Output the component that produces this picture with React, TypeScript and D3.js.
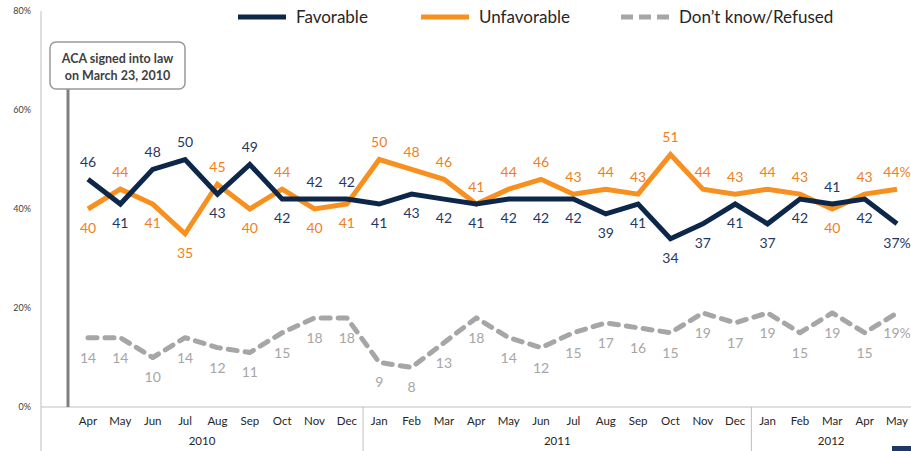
import React from "react";
import * as d3 from "d3";

const months = ["Apr","May","Jun","Jul","Aug","Sep","Oct","Nov","Dec","Jan","Feb","Mar","Apr","May","Jun","Jul","Aug","Sep","Oct","Nov","Dec","Jan","Feb","Mar","Apr","May"];
const years = [
  { label: "2010", count: 9 },
  { label: "2011", count: 12 },
  { label: "2012", count: 5 },
];
const favorable = [46,41,48,50,43,49,42,42,42,41,43,42,41,42,42,42,39,41,34,37,41,37,42,41,42,37];
const unfavorable = [40,44,41,35,45,40,44,40,41,50,48,46,41,44,46,43,44,43,51,44,43,44,43,40,43,44];
const dontKnow = [14,14,10,14,12,11,15,18,18,9,8,13,18,14,12,15,17,16,15,19,17,19,15,19,15,19];
// label placement: 1 = above, -1 = below
const favPos = [1,-1,1,1,-1,1,-1,1,1,-1,-1,-1,-1,-1,-1,-1,-1,-1,-1,-1,-1,-1,-1,1,-1,-1];
const unfPos = [-1,1,-1,-1,1,-1,1,-1,-1,1,1,1,1,1,1,1,1,1,1,1,1,1,1,-1,1,1];
const yTicks = [0,20,40,60,80];

const W = 911, H = 451;
const NAVY = "#0C2749";
const NAVY_TXT = "#1F3864";
const ORANGE = "#F7901E";
const ORANGE_TXT = "#EE7F22";
const GRAY = "#A6A6A6";
const FONT = "Lato, 'Open Sans', sans-serif";

export default function App() {
  const idx = months.map((_, i) => i);
  const x = d3.scalePoint<number>().domain(idx).range([88, 897]);
  const y = d3.scaleLinear().domain([0, 80]).range([407, 11]);
  const step = x.step();
  const line = d3.line<number>().x((_, i) => x(i)!).y(d => y(d));

  const series = [
    { data: unfavorable, color: ORANGE, txt: ORANGE_TXT, pos: unfPos },
    { data: favorable, color: NAVY, txt: NAVY_TXT, pos: favPos },
  ];

  let acc = 0;
  const groups = years.map(g => {
    const start = acc;
    acc += g.count;
    const left = start === 0 ? 41 : x(start)! - step / 2;
    const right = acc === months.length ? W : x(acc - 1)! + step / 2;
    return { ...g, left, right };
  });

  const last = months.length - 1;

  return (
    <div style={{ position: "fixed", left: 0, top: 0 }}>
      <svg width={W} height={H} style={{ display: "block", background: "#fff" }} fontFamily={FONT}>
        <line x1={41} x2={41} y1={y(80)} y2={H} stroke="#BFBFBF" strokeWidth={1} />
        {yTicks.map(t => (
          <text key={t} x={31} y={y(t)} dy="0.35em" textAnchor="end" fontSize={9} fill="#404040">{t}%</text>
        ))}
        <line x1={41} x2={W} y1={y(0)} y2={y(0)} stroke="#BFBFBF" strokeWidth={1} />
        {groups.slice(1).map(g => (
          <line key={g.label} x1={g.left} x2={g.left} y1={y(0)} y2={H} stroke="#BFBFBF" strokeWidth={1} />
        ))}
        {months.map((m, i) => (
          <text key={i} x={x(i)} y={421} dy="0.35em" textAnchor="middle" fontSize={11.5} fill="#262626">{m}</text>
        ))}
        {groups.map(g => (
          <text key={g.label} x={(g.left + g.right) / 2} y={441} dy="0.35em" textAnchor="middle" fontSize={11.5} fill="#262626">{g.label}</text>
        ))}

        <line x1={68} x2={68} y1={89} y2={y(0)} stroke="#808080" strokeWidth={3} />
        <rect x={50} y={42} width={135} height={47} rx={6} fill="#fff" stroke="#999" strokeWidth={1.5} />
        <text x={117.5} y={59} dy="0.35em" textAnchor="middle" fontSize={12.5} fontWeight="bold" fill="#404040">ACA signed into law</text>
        <text x={117.5} y={76} dy="0.35em" textAnchor="middle" fontSize={12.5} fontWeight="bold" fill="#404040">on March 23, 2010</text>

        <path d={line(dontKnow)!} fill="none" stroke={GRAY} strokeWidth={5} strokeDasharray="9 8" strokeLinecap="round" strokeLinejoin="round" />
        {dontKnow.map((v, i) => (
          <text key={i} x={x(i)} y={y(v) + 20} dy="0.35em" textAnchor="middle" fontSize={14} fill={GRAY}>{i === last ? `${v}%` : v}</text>
        ))}

        {series.map((s, k) => (
          <g key={k}>
            <path d={line(s.data)!} fill="none" stroke={s.color} strokeWidth={5} strokeLinejoin="miter" />
            {s.data.map((v, i) => (
              <text key={i} x={x(i)} y={y(v) + (s.pos[i] > 0 ? -17 : 19)} dy="0.35em" textAnchor="middle" fontSize={14} fill={s.txt}>{i === last ? `${v}%` : v}</text>
            ))}
          </g>
        ))}

        <line x1={238} x2={286} y1={17} y2={17} stroke={NAVY} strokeWidth={5} />
        <text x={296} y={17} dy="0.35em" fontSize={17} fill="#262626">Favorable</text>
        <line x1={421} x2={469} y1={17} y2={17} stroke={ORANGE} strokeWidth={5} />
        <text x={479} y={17} dy="0.35em" fontSize={17} fill="#262626">Unfavorable</text>
        <line x1={621} x2={670} y1={17} y2={17} stroke={GRAY} strokeWidth={5} strokeDasharray="12 6" />
        <text x={679} y={17} dy="0.35em" fontSize={17} fill="#262626">Don’t know/Refused</text>

        <rect x={892} y={446} width={19} height={5} fill="#1F3864" />
      </svg>
    </div>
  );
}
